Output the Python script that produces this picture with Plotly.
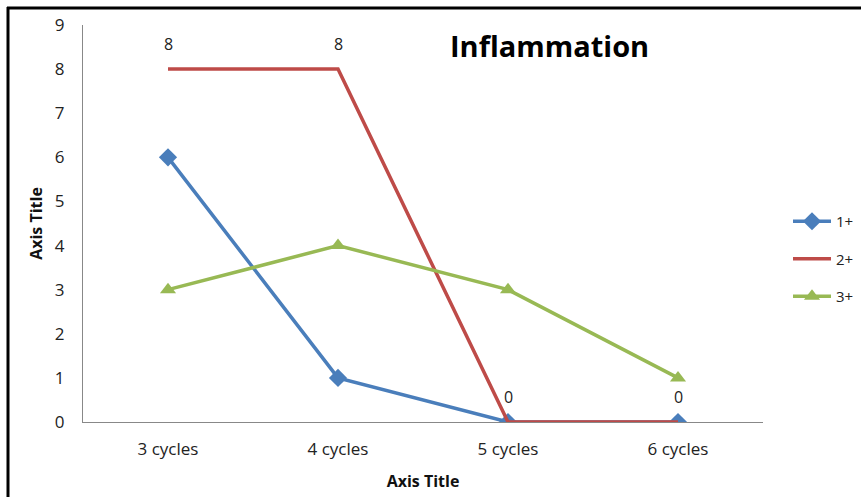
import plotly.graph_objects as go

categories = ["3 cycles", "4 cycles", "5 cycles", "6 cycles"]
grade_1 = [6, 1, 0, 0]
grade_2 = [8, 8, 0, 0]
grade_3 = [3, 4, 3, 1]

BLUE = "#4A7EBB"
RED = "#BE4B48"
GREEN = "#98B954"
FONT = "Open Sans"

W, H = 861, 497
L, R, T, B = 83, 98, 25, 75
PW, PH = W - L - R, H - T - B


def px_x(x):
    return (x - L) / PW


def px_y(y):
    return (H - B - y) / PH


fig = go.Figure()
fig.add_trace(go.Scatter(
    x=categories, y=grade_1, name="1+", mode="lines+markers",
    line=dict(color=BLUE, width=3.5),
    marker=dict(symbol="diamond", size=14, color=BLUE),
    legendgroup="a",
))
fig.add_trace(go.Scatter(
    x=categories, y=grade_2, name="2+", mode="lines",
    line=dict(color=RED, width=3.5),
    legendgroup="b",
))
fig.add_trace(go.Scatter(
    x=categories, y=grade_3, name="3+", mode="lines+markers",
    line=dict(color=GREEN, width=3.5),
    marker=dict(symbol="triangle-up", size=14, color=GREEN),
    legendgroup="c",
))

# value labels above the 2+ series
value_labels = [
    dict(x=c, y=v, xref="x", yref="y", text=str(v), showarrow=False,
         yshift=25, font=dict(family=FONT, size=16, color="#222"))
    for c, v in zip(categories, grade_2)
]

fig.update_layout(
    width=W, height=H,
    margin=dict(l=L, r=R, t=T, b=B, autoexpand=False),
    paper_bgcolor="white", plot_bgcolor="white",
    font=dict(family=FONT, size=16, color="#222"),
    showlegend=True,
    legend=dict(
        x=px_x(788), y=px_y(205), xanchor="left", yanchor="top",
        font=dict(family=FONT, size=15, color="#222"),
        itemwidth=38, tracegroupgap=15, bgcolor="rgba(0,0,0,0)",
        borderwidth=0,
    ),
    annotations=value_labels + [dict(
        text="<b>Inflammation</b>", x=px_x(549), y=px_y(45),
        xref="paper", yref="paper", xanchor="center", yanchor="middle",
        showarrow=False,
        font=dict(family=FONT, size=29, color="black"),
    )],
    shapes=[
        dict(type="line", xref="paper", yref="paper",
             x0=px_x(7), x1=px_x(861), y0=px_y(8), y1=px_y(8),
             line=dict(color="black", width=3)),
        dict(type="line", xref="paper", yref="paper",
             x0=px_x(8), x1=px_x(8), y0=px_y(7), y1=px_y(497),
             line=dict(color="black", width=3)),
    ],
)

fig.update_xaxes(
    range=[-0.5, 3.5],
    showline=True, linecolor="#888", linewidth=1,
    showgrid=False, ticks="", ticklabelstandoff=12,
    title=dict(text="<b>Axis Title</b>", font=dict(family=FONT, size=16, color="#111"), standoff=16),
    tickfont=dict(family=FONT, size=17, color="#222"),
)
fig.update_yaxes(
    range=[0, 9], dtick=1, showline=True, linecolor="#888", linewidth=1,
    showgrid=False, zeroline=False, ticks="", ticklabelstandoff=14,
    title=dict(text="<b>Axis Title</b>", font=dict(family=FONT, size=16, color="#111"), standoff=8),
    tickfont=dict(family=FONT, size=17, color="#222"),
)

fig.write_html("out.html")
